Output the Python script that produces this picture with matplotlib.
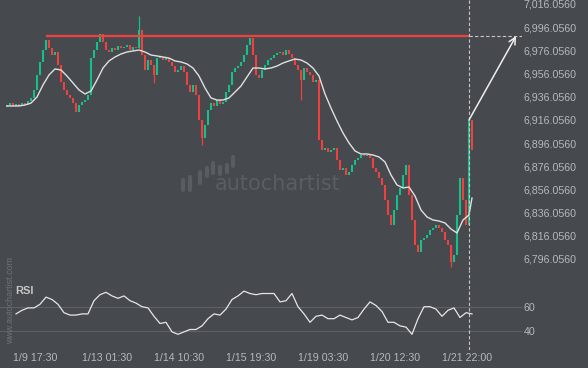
import matplotlib
matplotlib.use('Agg')
import matplotlib.pyplot as plt
from matplotlib.lines import Line2D

plt.rcParams['font.family'] = ['Liberation Sans', 'DejaVu Sans']

# candle closes, one per bar (open = previous close)
first_open = 6927.5
closes = [6928.8, 6930.5, 6928.0, 6929.7, 6928.0, 6930.5, 6928.8, 6932.3, 6934.9, 6941.8,
          6954.7, 6965.9, 6976.2, 6984.9, 6978.0, 6971.9, 6974.5, 6963.3, 6948.7, 6941.8,
          6937.4, 6934.9, 6930.5, 6922.8, 6928.8, 6931.4, 6933.1, 6937.4, 6969.3, 6976.2,
          6983.1, 6990.0, 6983.1, 6976.2, 6974.5, 6978.0, 6976.2, 6979.7, 6978.0, 6978.8,
          6980.5, 6976.2, 6978.8, 6978.0, 6993.5, 6971.9, 6959.0, 6967.6, 6963.3, 6954.7,
          6969.3, 6970.2, 6967.6, 6969.3, 6965.9, 6962.4, 6957.3, 6959.0, 6962.4, 6957.3,
          6946.1, 6940.0, 6946.1, 6937.4, 6915.9, 6900.4, 6911.6, 6924.5, 6930.5, 6928.0,
          6933.1, 6929.7, 6931.4, 6940.0, 6946.1, 6957.3, 6960.7, 6962.4, 6965.9, 6971.9,
          6980.5, 6986.6, 6971.9, 6954.7, 6952.1, 6959.0, 6963.3, 6967.6, 6969.3, 6971.9,
          6973.7, 6974.5, 6971.9, 6976.2, 6972.8, 6969.3, 6963.3, 6959.0, 6950.4, 6960.7,
          6957.3, 6954.7, 6948.7, 6950.4, 6898.7, 6890.0, 6891.8, 6888.3, 6890.0, 6891.8,
          6881.4, 6872.8, 6874.5, 6868.5, 6871.1, 6877.1, 6881.4, 6883.1, 6885.7, 6884.9,
          6885.7, 6883.1, 6874.5, 6871.1, 6865.9, 6859.9, 6846.9, 6834.0, 6825.4, 6838.3,
          6851.2, 6857.3, 6868.5, 6877.1, 6851.2, 6829.7, 6808.1, 6802.1, 6812.4, 6814.2,
          6816.8, 6821.1, 6822.8, 6825.4, 6822.8, 6819.3, 6812.4, 6808.1, 6793.5, 6799.5,
          6834.0, 6866.0, 6846.9, 6825.4, 6915.9, 6890.0]

# long wicks
spike_idx = [44, 49, 65, 98, 148]
spike_val = [7005.5, 6947.8, 6894.3, 6933.1, 6789.0]

# moving average, every second bar plus the last one
ma_vals = [6928.0, 6928.0, 6928.0, 6928.8, 6930.5, 6935.7, 6946.1, 6954.7, 6959.9, 6959.0,
           6953.8, 6947.8, 6941.8, 6938.3, 6940.9, 6950.4, 6960.7, 6966.8, 6970.2, 6972.8,
           6974.5, 6975.4, 6976.2, 6974.5, 6971.9, 6971.1, 6970.2, 6969.3, 6966.8, 6965.9,
           6964.2, 6960.7, 6953.8, 6943.5, 6934.9, 6933.1, 6933.1, 6934.9, 6940.0, 6945.2,
           6953.0, 6960.7, 6960.7, 6959.9, 6960.7, 6962.4, 6965.0, 6966.8, 6968.5, 6967.6,
           6965.0, 6960.7, 6953.8, 6938.3, 6926.2, 6915.0, 6904.7, 6896.1, 6889.2, 6886.6,
           6886.6, 6885.7, 6884.0, 6879.7, 6868.5, 6859.9, 6857.3, 6858.1, 6850.4, 6838.3,
           6832.3, 6829.7, 6828.8, 6827.1, 6821.9, 6818.5, 6829.7, 6834.0, 6848.6]

# RSI, every second bar starting at bar 3
rsi_vals = [54, 57, 59, 59, 62, 68, 66, 62, 55, 53,
            53, 54, 54, 65, 70, 72, 69, 67, 69, 65,
            63, 60, 59, 52, 46, 47, 39, 37, 39, 41,
            41, 44, 50, 54, 53, 58, 66, 69, 73, 71,
            70, 71, 71, 71, 64, 65, 71, 60, 54, 47,
            52, 53, 50, 50, 53, 51, 49, 51, 58, 64,
            61, 56, 47, 47, 44, 43, 37, 50, 60, 60,
            58, 52, 57, 59, 51, 55, 54]

resistance = 6988.3
now_idx = 154
target_idx = 169.7

price_ticks = [6796.056, 6816.056, 6836.056, 6856.056, 6876.056, 6896.056,
               6916.056, 6936.056, 6956.056, 6976.056, 6996.056, 7016.056]
date_idx = [9.3, 33.3, 57.3, 81.3, 105.3, 129.3, 153.3]
date_labels = ['1/9 17:30', '1/13 01:30', '1/14 10:30', '1/15 19:30',
               '1/19 03:30', '1/20 12:30', '1/21 22:00']

bg = '#46494d'
txt = '#b6b9bc'
green = '#15c08a'
red = '#f0403f'

fig = plt.figure(figsize=(5.88, 3.68), dpi=100, facecolor=bg)
ax = fig.add_axes([0, 1 - 270 / 368, 522 / 588, 270 / 368])
ax2 = fig.add_axes([0, 1 - 350 / 368, 522 / 588, 80 / 368])
for a in (ax, ax2):
    a.set_facecolor(bg)
    for s in a.spines.values():
        s.set_visible(False)
    a.set_xlim(-7 / 3, 515 / 3)

# watermark logo
logo = [(183, 180, 190), (190, 177, 190), (200, 172, 183), (207, 168, 176),
        (213, 163, 173), (220, 167, 174), (227, 165, 172), (233, 157, 166)]
for x, y0, y1 in logo:
    fig.add_artist(Line2D([x / 588, x / 588], [1 - y0 / 368, 1 - y1 / 368],
                          color='#595c60', lw=3, solid_capstyle='round'))
fig.text(278 / 588, 1 - 184 / 368, 'autochartist', ha='center', va='center',
         fontsize=15, color='#5a5d61', family=['DejaVu Sans'])

# candles
idx = list(range(len(closes)))
opens = [first_open] + closes[:-1]
cols = [green if c >= o else red for o, c in zip(opens, closes)]
for i, v in zip(spike_idx, spike_val):
    lo = min(opens[i], closes[i], v)
    hi = max(opens[i], closes[i], v)
    ax.vlines(i, lo, hi, colors=cols[i], lw=0.9)
ax.vlines(idx, opens, closes, colors=cols, lw=1.5)

ma_idx = list(range(0, 155, 2)) + [155]
ax.plot(ma_idx, ma_vals, color='#e0e0e0', lw=1.0)

ax.hlines(resistance, 13, now_idx, color=red, lw=1.6)
ax.hlines(resistance, now_idx, 515 / 3, color='#c8c8c8', lw=0.8, linestyles=(0, (3, 2)))
ax.axvline(now_idx, color='#c8c8c8', lw=0.8, ls=(0, (3, 2)))
ax.annotate('', xy=(target_idx, resistance), xytext=(now_idx, closes[now_idx]),
            arrowprops=dict(arrowstyle='->', color='#eeeeee', lw=1.1,
                            shrinkA=0, shrinkB=0, mutation_scale=12))

ax.set_ylim(6786.57, 7019.34)
ax.yaxis.tick_right()
ax.set_yticks(price_ticks)
ax.set_yticklabels(['{:,.4f}'.format(p) for p in price_ticks])
ax.tick_params(axis='y', length=0, pad=1, labelsize=7.7, labelcolor=txt)
ax.set_xticks([])

# RSI panel
rsi_idx = list(range(3, 156, 2))
ax2.set_ylim(23.9, 90.6)
ax2.axhline(60, color='#5d6165', lw=0.8)
ax2.axhline(40, color='#5d6165', lw=0.8)
ax2.plot(rsi_idx, rsi_vals, color='#e6e6e6', lw=0.9)
ax2.axvline(now_idx, color='#c8c8c8', lw=0.8, ls=(0, (3, 2)))
ax2.yaxis.tick_right()
ax2.set_yticks([40, 60])
ax2.set_yticklabels(['40', '60'])
ax2.tick_params(axis='y', length=0, pad=1, labelsize=7.7, labelcolor=txt)
ax2.set_xticks(date_idx)
ax2.set_xticklabels(date_labels)
ax2.tick_params(axis='x', length=0, pad=2.5, labelsize=7.7, labelcolor=txt)
ax2.text(2.6, 73, 'RSI', fontsize=8, fontweight='bold', color='#c4c6c8', va='center')

fig.text(11 / 588, 1 - 301 / 368, 'www.autochartist.com', rotation=90, ha='center',
         va='center', fontsize=6.4, color='#6f7276')

fig.savefig('out.png', dpi=100, facecolor=bg)
